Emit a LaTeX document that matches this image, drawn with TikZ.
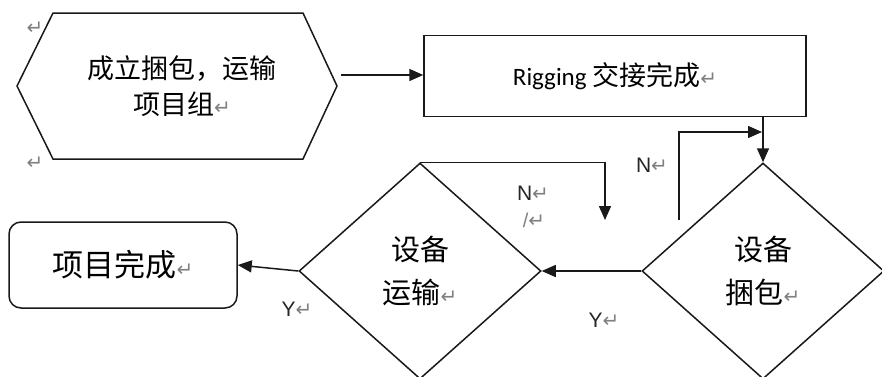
\documentclass[tikz,border=0pt]{standalone}
\usepackage{fontspec}
\setmainfont{Liberation Sans}
\newfontfamily\cjk{Noto Sans CJK SC}
\newfontfamily\dvs{DejaVu Sans}
\newfontfamily\calib{Carlito}
\usetikzlibrary{shapes.geometric,arrows.meta}
\newcommand{\rtn}{{\dvs\color{gray}\fontsize{20}{12}\selectfont ↵}}
\tikzset{
  ln/.style={line width=1.5pt,draw=black!90},
  arr/.style={ln,-{Triangle[length=14pt,width=12pt]}},
  dia/.style={ln,shape=diamond,minimum width=242pt,minimum height=216pt,inner sep=0pt,align=center,font=\cjk\fontsize{29}{43}\selectfont},
  lbl/.style={font=\fontsize{21}{21}\selectfont,inner sep=0pt,text=black!85}
}
\begin{document}
\begin{tikzpicture}[x=1pt,y=-1pt]
\useasboundingbox[fill=white] (0,0) rectangle (882,376);
% hexagon
\coordinate (h1) at (53,13);
\coordinate (h2) at (303,13);
\coordinate (h3) at (337,86);
\coordinate (h4) at (303,159);
\coordinate (h5) at (53,159);
\coordinate (h6) at (17,86);
\draw[ln] (h1) -- (h2) -- (h3) -- (h4) -- (h5) -- (h6) -- cycle;
\node[align=center,font=\cjk\fontsize{27}{36}\selectfont] (hex) at (182,86) {成立捆包，运输\\项目组\rtn};
\coordinate (hexE) at (341,75);
% rectangle
\node[ln,minimum width=382pt,minimum height=81pt,inner sep=0pt] (rig) at (615,76)
  {\calib\fontsize{25}{25}\selectfont Rigging {\cjk\fontsize{27}{27}\selectfont 交接完成}\rtn};
\draw[arr] (hexE) -- (rig.west |- hexE);
% diamonds
\node[dia] (rdia) at (763,271) {设备\\捆包\rtn};
\node[dia] (ldia) at (420,271) {设备\\运输\rtn};
% done box
\node[ln,rounded corners=12pt,minimum width=228pt,minimum height=86pt,inner sep=0pt,font=\cjk\fontsize{31}{31}\selectfont] (done) at (123,265) {项目完成\rtn};
% connectors
\draw[arr] (rdia.north |- rig.south) -- (rdia.north);
\coordinate (nloop) at (679,220);
\coordinate (nturn) at (762,132);
\draw[arr] (nloop) |- (nturn);
\coordinate (ndown) at (605,220);
\draw[arr] (ldia.north) -| (ndown);
\draw[arr] (rdia.west) -- (ldia.east);
\draw[arr] (ldia.west) -- (done.east);
% labels
\node[lbl] (n1) at (652,165) {N\rtn};
\node[lbl] (n2) at (533,193) {N\rtn};
\node[lbl,text=gray,font=\fontsize{20}{20}\selectfont] (sl) at (534,220) {/\rtn};
\node[lbl] (y1) at (604,320) {Y\rtn};
\node[lbl] (y2) at (297,309) {Y\rtn};
\node[inner sep=0pt] (r1) at (35,28) {\rtn};
\node[inner sep=0pt] (r2) at (35,163) {\rtn};
\end{tikzpicture}
\end{document}
